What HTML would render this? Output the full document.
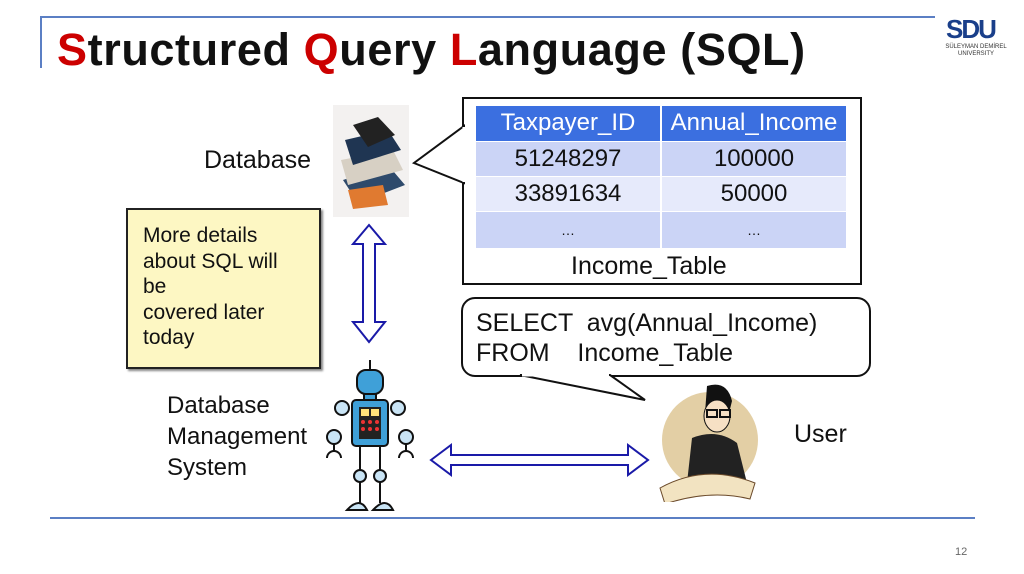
<!DOCTYPE html>
<html><head><meta charset="utf-8"><style>
body{margin:0;width:1024px;height:574px;background:#fff;position:relative;overflow:hidden;font-family:"Liberation Sans",sans-serif;}
.a{position:absolute;}
.c{text-align:center;font-size:24px;color:#111}
</style></head><body>
<div class="a" style="left:40px;top:16px;width:895px;height:2px;background:#5b7fc4"></div>
<div class="a" style="left:40px;top:16px;width:2px;height:52px;background:#5b7fc4"></div>
<div class="a" style="left:57px;top:24px;font-size:45px;font-weight:bold;color:#111;letter-spacing:0.6px"><span style="color:#c00">S</span>tructured <span style="color:#c00">Q</span>uery <span style="color:#c00">L</span>anguage (SQL)</div>
<div class="a" style="left:946px;top:14px;font-size:26px;font-weight:bold;color:#1a3f8a;letter-spacing:-2px">SDU</div>
<div class="a" style="left:942px;top:44px;font-size:6px;color:#333;line-height:7px;text-align:center;width:68px">SÜLEYMAN DEMİREL<br>UNIVERSITY</div>

<div class="a" style="left:204px;top:146px;font-size:25px;color:#111">Database</div>
<svg class="a" style="left:333px;top:105px" width="76" height="112">
<rect width="76" height="112" fill="#f3f1f0"/>
<polygon points="10,75 55,60 72,80 25,98" fill="#2e4a6b"/><polygon points="8,55 60,45 70,65 15,80" fill="#d7d0c4"/>
<polygon points="12,35 55,25 68,45 20,60" fill="#1f3552"/><polygon points="20,20 45,12 62,30 35,42" fill="#222"/>
<polygon points="15,85 50,80 55,100 20,104" fill="#e07a30"/>
</svg>
<svg class="a" style="left:350px;top:222px" width="38" height="124"><polygon points="19,3 35,22 25,22 25,100 35,100 19,120 3,100 13,100 13,22 3,22" fill="#fff" stroke="#1a1aa8" stroke-width="2"/></svg>

<div class="a" style="left:126px;top:208px;width:191px;height:157px;background:#fdf7c3;border:2px solid #222;box-shadow:2px 2px 2px #888"></div>
<div class="a" style="left:143px;top:223px;font-size:21px;line-height:25.5px;color:#111">More details<br>about SQL will<br>be<br>covered later<br>today</div>

<svg class="a" style="left:410px;top:96px" width="455" height="192">
<rect x="53" y="2" width="398" height="186" fill="#fff" stroke="#111" stroke-width="2"/>
<polygon points="54,30 4,67 54,87" fill="#fff" stroke="#111" stroke-width="2"/>
<line x1="54" y1="31" x2="54" y2="86" stroke="#fff" stroke-width="3"/>
</svg>
<div class="a" style="left:476px;top:106px;width:370px;height:142px">
<div class="a" style="left:0;top:0;width:184px;height:35px;background:#3b6fe0"></div>
<div class="a" style="left:186px;top:0;width:184px;height:35px;background:#3b6fe0"></div>
<div class="a" style="left:0;top:36px;width:184px;height:34px;background:#cbd4f6"></div>
<div class="a" style="left:186px;top:36px;width:184px;height:34px;background:#cbd4f6"></div>
<div class="a" style="left:0;top:71px;width:184px;height:34px;background:#e6eafb"></div>
<div class="a" style="left:186px;top:71px;width:184px;height:34px;background:#e6eafb"></div>
<div class="a" style="left:0;top:106px;width:184px;height:36px;background:#cbd4f6"></div>
<div class="a" style="left:186px;top:106px;width:184px;height:36px;background:#cbd4f6"></div>
</div>
<div class="a c" style="left:476px;top:109px;width:184px;color:#fff">Taxpayer_ID</div>
<div class="a c" style="left:662px;top:109px;width:184px;color:#fff">Annual_Income</div>
<div class="a c" style="left:476px;top:145px;width:184px">51248297</div>
<div class="a c" style="left:662px;top:145px;width:184px">100000</div>
<div class="a c" style="left:476px;top:180px;width:184px">33891634</div>
<div class="a c" style="left:662px;top:180px;width:184px">50000</div>
<div class="a" style="left:476px;top:222px;width:184px;text-align:center;font-size:14px;color:#111">…</div>
<div class="a" style="left:662px;top:222px;width:184px;text-align:center;font-size:14px;color:#111">…</div>
<div class="a" style="left:571px;top:252px;font-size:25px;color:#111">Income_Table</div>

<svg class="a" style="left:460px;top:296px" width="415" height="106">
<rect x="2" y="2" width="408" height="78" rx="13" fill="#fff" stroke="#111" stroke-width="2"/>
<polygon points="60,79 185,104 150,79" fill="#fff" stroke="#111" stroke-width="2"/>
<line x1="62" y1="79" x2="149" y2="79" stroke="#fff" stroke-width="3"/>
</svg>
<div class="a" style="left:476px;top:308px;font-size:25px;line-height:30px;color:#111;white-space:pre">SELECT  avg(Annual_Income)
FROM    Income_Table</div>

<div class="a" style="left:167px;top:390px;font-size:24px;line-height:31px;color:#111">Database<br>Management<br>System</div>
<svg class="a" style="left:322px;top:358px" width="96" height="156">
<line x1="48" y1="2" x2="48" y2="12" stroke="#111" stroke-width="2"/>
<rect x="35" y="12" width="26" height="24" rx="9" fill="#3fa0d8" stroke="#111" stroke-width="2"/>
<rect x="42" y="36" width="12" height="8" fill="#3fa0d8" stroke="#111" stroke-width="2"/>
<circle cx="20" cy="50" r="7" fill="#c9e4f5" stroke="#111" stroke-width="2"/><circle cx="76" cy="50" r="7" fill="#c9e4f5" stroke="#111" stroke-width="2"/>
<circle cx="12" cy="79" r="7" fill="#c9e4f5" stroke="#111" stroke-width="2"/><circle cx="84" cy="79" r="7" fill="#c9e4f5" stroke="#111" stroke-width="2"/>
<rect x="30" y="42" width="36" height="46" rx="4" fill="#3fa0d8" stroke="#111" stroke-width="2"/>
<rect x="37" y="49" width="22" height="32" fill="#222"/>
<rect x="39" y="51" width="8" height="7" fill="#ffe27a"/><rect x="49" y="51" width="8" height="7" fill="#ffe27a"/>
<circle cx="41" cy="64" r="2" fill="#e33"/><circle cx="48" cy="64" r="2" fill="#e33"/><circle cx="55" cy="64" r="2" fill="#e33"/>
<circle cx="41" cy="71" r="2" fill="#e33"/><circle cx="48" cy="71" r="2" fill="#e33"/><circle cx="55" cy="71" r="2" fill="#e33"/>
<path d="M5,100 a7,7 0 1 1 14,0 M77,100 a7,7 0 1 1 14,0" fill="none" stroke="#111" stroke-width="2"/>
<line x1="12" y1="86" x2="12" y2="93" stroke="#111" stroke-width="2"/><line x1="84" y1="86" x2="84" y2="93" stroke="#111" stroke-width="2"/>
<line x1="38" y1="88" x2="38" y2="145" stroke="#111" stroke-width="2"/><line x1="58" y1="88" x2="58" y2="145" stroke="#111" stroke-width="2"/>
<circle cx="38" cy="118" r="6" fill="#c9e4f5" stroke="#111" stroke-width="2"/><circle cx="58" cy="118" r="6" fill="#c9e4f5" stroke="#111" stroke-width="2"/>
<path d="M25,152 q13,-14 20,0 z M51,152 q13,-14 20,0 z" fill="#c9e4f5" stroke="#111" stroke-width="2"/>
</svg>

<svg class="a" style="left:428px;top:442px" width="224" height="36"><polygon points="3,18 23,3 23,13 200,13 200,3 220,18 200,33 200,23 23,23 23,33" fill="#fff" stroke="#1a1aa8" stroke-width="2"/></svg>

<svg class="a" style="left:652px;top:378px" width="110" height="124">
<circle cx="58" cy="62" r="48" fill="#e3cfa5"/>
<path d="M55,8 q20,-6 25,15 l-5,20 q-15,5 -22,-8 z" fill="#111"/>
<ellipse cx="65" cy="38" rx="13" ry="16" fill="#f6e0c4" stroke="#111"/>
<rect x="55" y="32" width="10" height="7" fill="none" stroke="#111" stroke-width="2"/><rect x="68" y="32" width="10" height="7" fill="none" stroke="#111" stroke-width="2"/>
<path d="M40,60 q25,-10 45,5 l10,40 l-60,0 z" fill="#222"/>
<path d="M8,110 q45,-25 95,-5 l-5,16 q-40,-10 -85,5 z" fill="#f2e3c1" stroke="#6b4a2a"/>
</svg>
<div class="a" style="left:794px;top:420px;font-size:25px;color:#111">User</div>

<div class="a" style="left:50px;top:517px;width:925px;height:2px;background:#5b7fc4"></div>
<div class="a" style="left:955px;top:546px;font-size:11px;color:#666">12</div>
</body></html>
